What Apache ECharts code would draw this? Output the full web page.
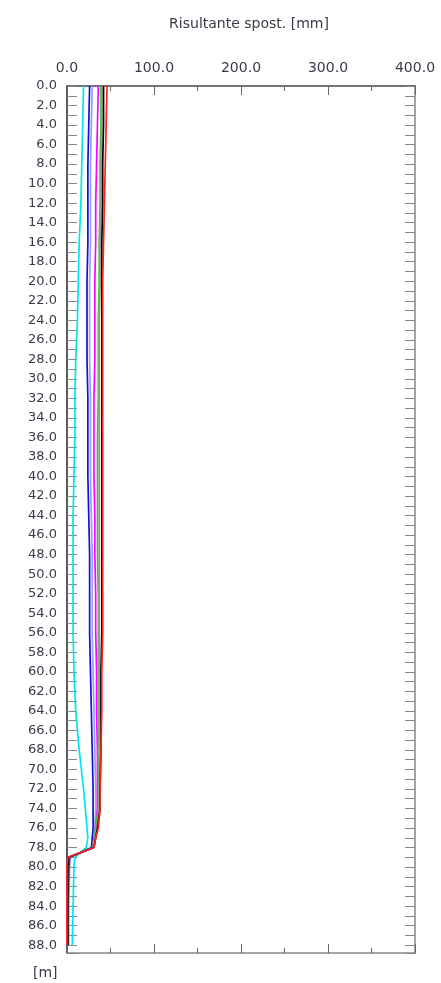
<!DOCTYPE html>
<html><head><meta charset="utf-8">
<script src="https://cdn.jsdelivr.net/npm/echarts@6/dist/echarts.min.js"></script>
<style>html,body{margin:0;padding:0;background:#fff}#c{width:441px;height:983px}</style>
</head><body><div id="c"></div>
<script>
// Depth [m]
const depths = [0,4,8,12,16,20,24,28,32,36,40,44,48,52,56,60,64,68,72,74,76,77,78,79,80,84,88];
// Resultant displacement [mm] per series
const cyanVals     = [19,18,17,16,14,13,12,10,9,9,8,7,7,7,7,8,10,14,19,21,23,24,22,9,8,7,6];
const blueVals     = [26,25,24,24,24,23,23,23,24,24,24,25,26,26,26,27,28,29,30,30,30,29,28,3,2,1,1];
const lavenderVals = [29,28,27,27,27,26,26,26,27,27,27,28,29,29,29,30,31,32,33,33,32,31,30,4,3,2,2];
const magentaVals  = [36,35,34,33,33,32,32,32,31,31,31,32,32,33,33,34,34,35,35,35,33,31,30,2,1,0,0];
const greenVals    = [39,39,38,38,37,37,36,36,36,35,35,35,35,36,36,36,36,36,36,36,33,31,30,2,1,1,1];
const grayVals     = [40,40,39,39,38,38,37,37,37,37,37,37,37,37,37,37,37,37,37,37,34,32,31,2,1,1,1];
const blackVals    = [42,42,41,41,40,40,40,40,40,40,40,40,40,40,40,39,39,39,38,38,35,33,31,2,1,1,1];
const redVals      = [46,45,44,43,42,41,41,41,41,41,41,41,41,41,41,40,40,39,38,38,36,33,31,1,0,0,0];

const seriesDefs = [
  ['cyan', cyanVals, '#00e5ee'],
  ['lavender', lavenderVals, '#9c9cff'],
  ['blue', blueVals, '#1010e0'],
  ['magenta', magentaVals, '#ff00ff'],
  ['green', greenVals, '#33cc33'],
  ['gray', grayVals, '#999999'],
  ['black', blackVals, '#000000'],
  ['red', redVals, '#ff2020']
];

const titleText = 'Risultante spost. [mm]';
const unitText = '[m]';
const FONT = 'DejaVu Sans';
const labelColor = '#3a3a4a';

const chart = echarts.init(document.getElementById('c'), null, {renderer:'canvas'});
function yAx(pos, col, labels) {
  return {
    type:'value', inverse:true, min:0, max:88.8, interval:1, position:pos,
    axisLine:{show:true, onZero:false, lineStyle:{color:col, width:1.5}},
    axisTick:{show:true, inside:true, length:10, lineStyle:{color:'#888'}},
    axisLabel: labels ? {show:true, fontFamily:FONT, fontSize:13, color:labelColor, margin:10,
        formatter:v=>(Math.abs(v/2-Math.round(v/2))<1e-6 ? v.toFixed(1) : '')} : {show:false},
    splitLine:{show:false}
  };
}
function xAx(pos, interval, len, labels, line, col) {
  return {
    type:'value', min:0, max:400, interval:interval, position:pos,
    axisLine:{show:line, onZero:false, lineStyle:{color:col, width:1.5}},
    axisTick:{show:true, inside:true, length:len, lineStyle:{color:'#666'}},
    axisLabel: labels ? {show:true, fontFamily:FONT, fontSize:14, color:labelColor, margin:11,
        formatter:v=>v.toFixed(1)} : {show:false},
    splitLine:{show:false}
  };
}
chart.setOption({
  animation:false,
  title:{text:titleText, left:244, top:12, textAlign:'center',
    textStyle:{fontFamily:FONT, fontSize:14, fontWeight:'normal', color:labelColor}},
  grid:{left:67, top:86, width:348, height:867},
  xAxis:[
    xAx('top', 100, 9, true, true, '#444'),
    xAx('top', 50, 5, false, false, '#444'),
    xAx('bottom', 100, 9, false, true, '#888'),
    xAx('bottom', 50, 5, false, false, '#888')
  ],
  yAxis:[
    yAx('left', '#222', true),
    yAx('right', '#888', false)
  ],
  graphic:[{type:'text', left:33, top:966,
    style:{text:unitText, font:'14px "DejaVu Sans"', fill:labelColor}}],
  series: seriesDefs.map(([name, vals, col]) => ({
    name, type:'line', xAxisIndex:0, yAxisIndex:0, showSymbol:false, symbol:'none',
    lineStyle:{color:col, width:1.7}, itemStyle:{color:col},
    data: vals.map((v,i)=>[v, depths[i]])
  }))
});
</script></body></html>
